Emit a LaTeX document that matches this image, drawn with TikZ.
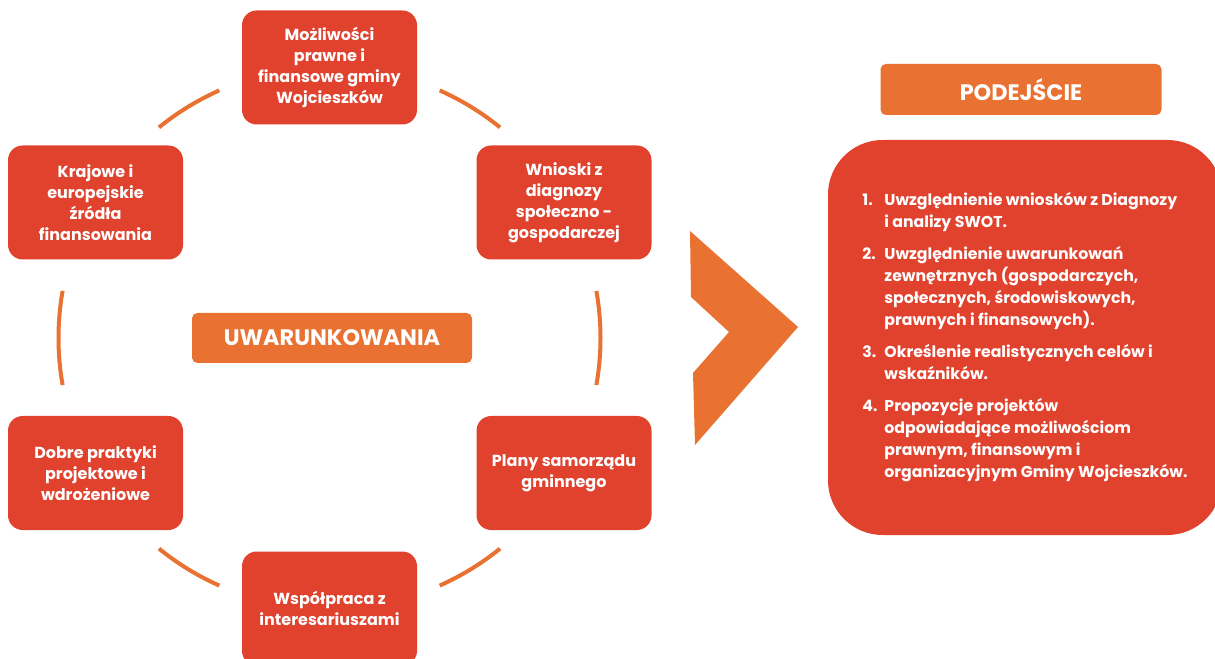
\documentclass[tikz,border=0pt]{standalone}
\usepackage{fontspec}
\setmainfont{Poppins}
\usetikzlibrary{calc}
\definecolor{boxred}{RGB}{224,66,46}
\definecolor{ringorange}{RGB}{233,113,50}
\begin{document}
\begin{tikzpicture}[x=0.75pt,y=-0.75pt,
  factor/.style={fill=boxred, rounded corners=11pt, minimum width=131.25pt,
    minimum height=85.5pt, text=white, align=center, inner sep=2pt,
    font=\bfseries\fontsize{12}{15.75}\selectfont},
  tagbox/.style={fill=ringorange, rounded corners=4pt, text=white,
    font=\bfseries\fontsize{16.8}{18}\selectfont, inner sep=0pt},
  ring/.style={draw=ringorange, line width=3pt},
  bigbox/.style={fill=boxred, rounded corners=41pt, text=white,
    minimum width=295.5pt, minimum height=296.25pt, inner sep=0pt,
    font=\bfseries\fontsize{11.8}{16.5}\selectfont}
]
\useasboundingbox (0,0) rectangle (1215,659);
\clip (0,0) rectangle (1215,659);
\coordinate (c) at (329.5,338);

% ring segments
\foreach \a/\b in {-114/-129, -51/-66, 170/190, -10/10, 114/129, 51/66}
  \draw[ring] (c) ++(\a:271) arc[start angle=\a, end angle=\b, radius=271];

% factor boxes
\node[factor] (top) at (329.5,67.5) {Możliwości\\prawne i\\finansowe gminy\\Wojcieszków};
\node[factor] (lu) at (95.5,202.5) {Krajowe i\\europejskie\\źródła\\finansowania};
\node[factor] (ru) at (564,202.5) {Wnioski z\\diagnozy\\społeczno -\\gospodarczej};
\node[factor] (ll) at (95.5,473) {Dobre praktyki\\projektowe i\\wdrożeniowe};
\node[factor] (rl) at (564,473) {Plany samorządu\\gminnego};
\node[factor] (bot) at (329.5,608.5) {Współpraca z\\interesariuszami};

% centre label
\node[tagbox, minimum width=210pt, minimum height=37.5pt] (uw) at (332,338) {UWARUNKOWANIA};

% chevron
\fill[ringorange] (690,231) -- (798,327) -- (695,445) -- (693,373) -- (729,332) -- (691,297) -- cycle;

% approach
\node[tagbox, minimum width=210.75pt, minimum height=38.25pt] (pod) at (1021,89.5) {PODEJŚCIE};
\node[bigbox] (approach) at (1025,337.5) {%
\begin{tabular}{@{}l@{}l@{}}
\makebox[16.5pt][l]{1.} & Uwzględnienie wniosków z Diagnozy\\
 & i analizy SWOT.\\[7.5pt]
2. & Uwzględnienie uwarunkowań\\
 & zewnętrznych (gospodarczych,\\
 & społecznych, środowiskowych,\\
 & prawnych i finansowych).\\[7.5pt]
3. & Określenie realistycznych celów i\\
 & wskaźników.\\[7.5pt]
4. & Propozycje projektów\\
 & odpowiadające możliwościom\\
 & prawnym, finansowym i\\
 & organizacyjnym Gminy Wojcieszków.
\end{tabular}};
\end{tikzpicture}
\end{document}
